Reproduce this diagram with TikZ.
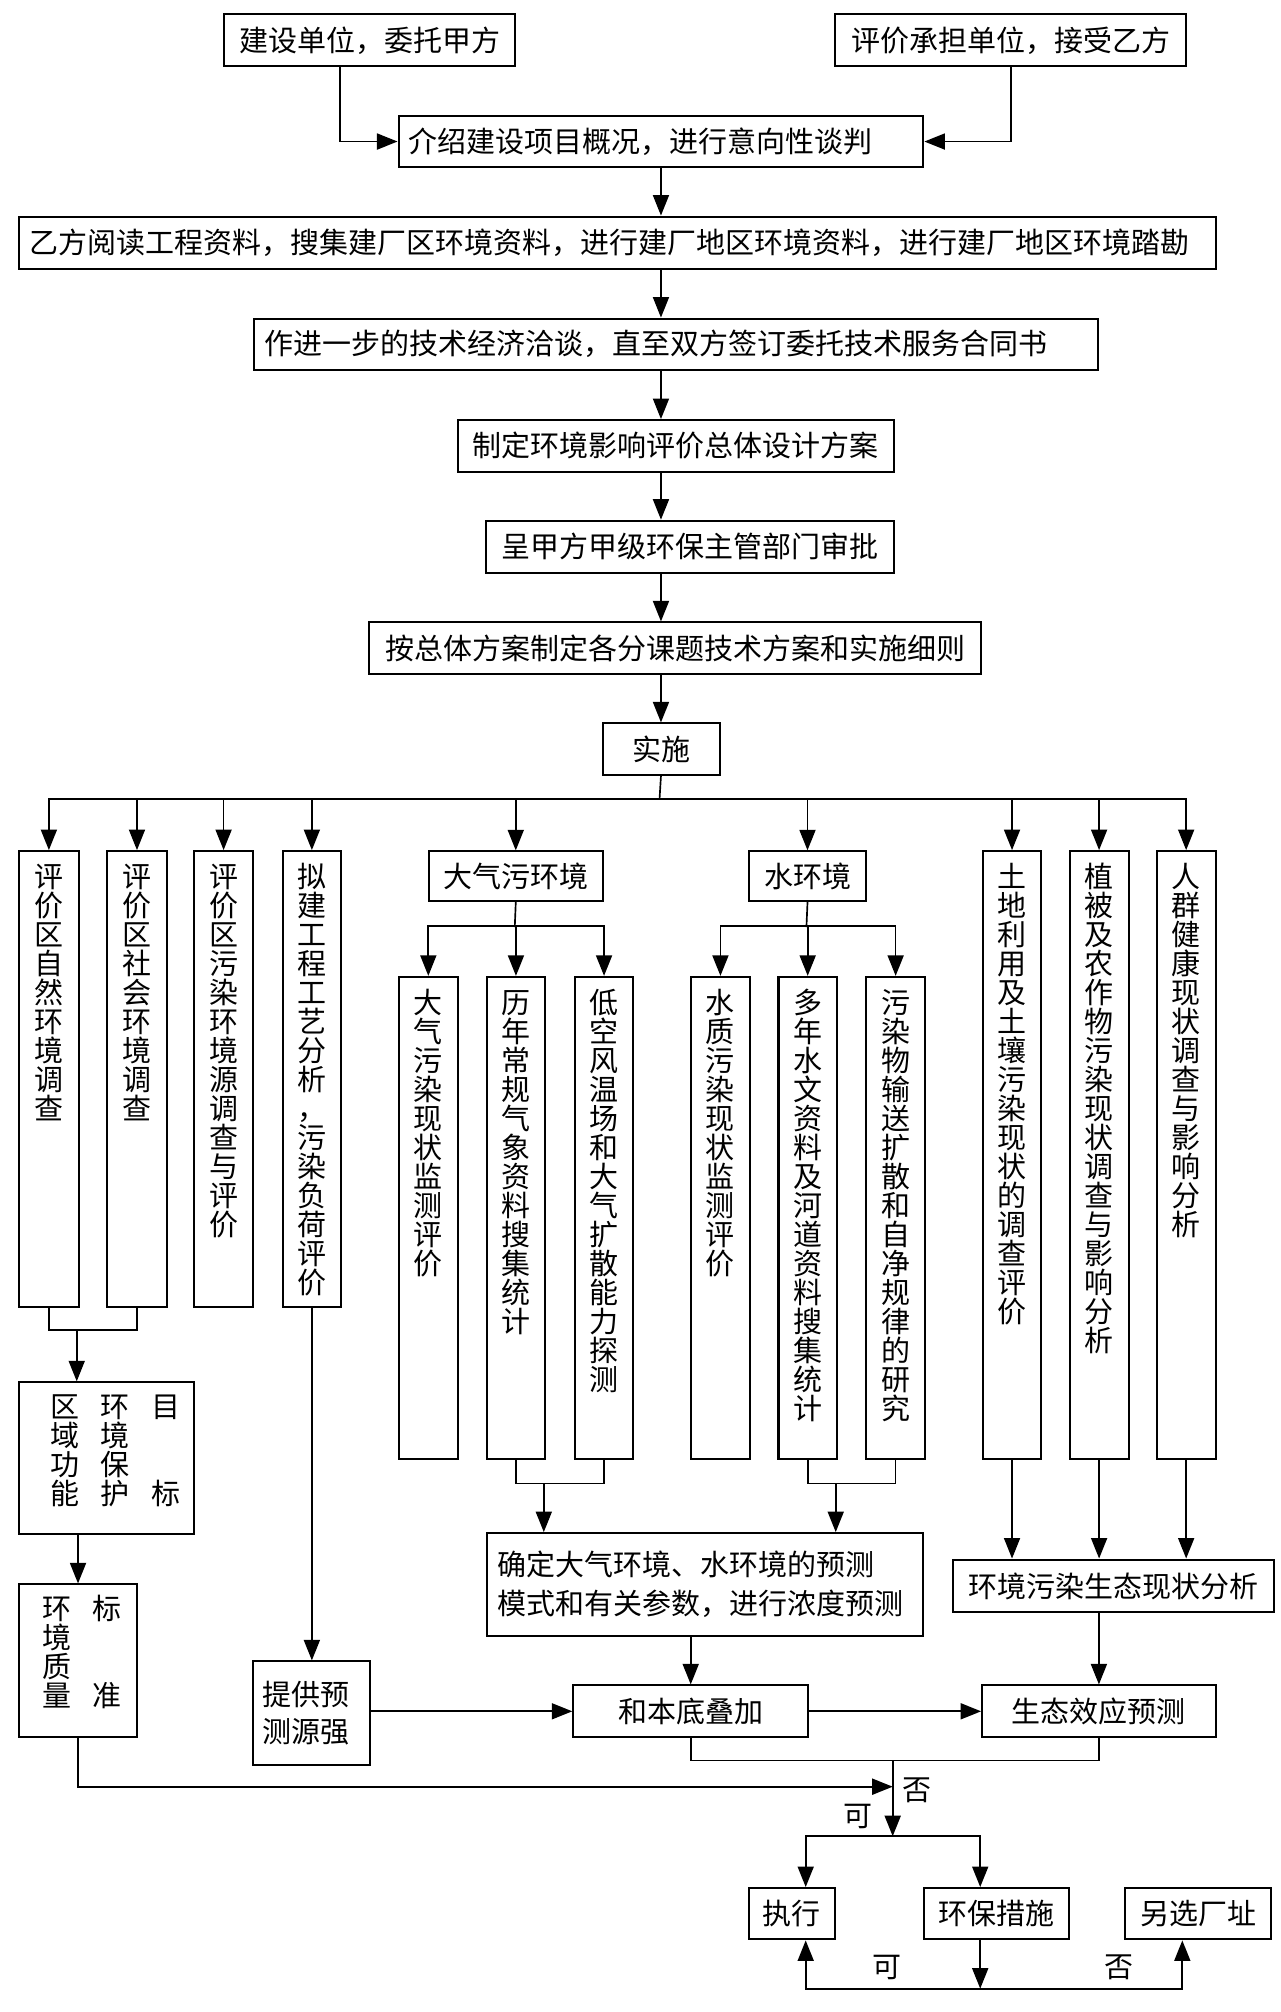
\documentclass[tikz,border=0pt]{standalone}
\usepackage{fontspec}
\setmainfont{Noto Sans CJK SC}
\usetikzlibrary{arrows.meta,calc}
\makeatletter
\newcommand\vstk[1]{\vtop{\baselineskip=22.6pt\lineskiplimit=-1000pt\lineskip=0pt\@tfor\vs@c:=#1\do{\hbox to 22.6pt{\hss\vs@c\hss}}}}
\makeatother
\newcommand\mybox[7]{\pgfmathsetmacro\bw{#4-#2}\pgfmathsetmacro\bh{#5-#3}\pgfmathsetmacro\tw{#4-#2-16}%
\node[box,anchor=north west,minimum width=\bw pt,minimum height=\bh pt,#6] (#1) at (#2,#3) {#7};}
\newcommand\vbx[6]{\mybox{#1}{#2}{#3}{#4}{#5}{}{}\node[vt] (#1t) at ($(#1.north)+(0,29)$) {\vstk{#6}};}
\tikzset{
 txt/.style={font=\fontsize{22.6pt}{26pt}\selectfont},
 box/.style={draw, line width=1.6pt, inner sep=8pt, txt},
 lt/.style={align=left, text width=\tw pt},
 arr/.style={line width=1.3pt, line cap=rect, -{Triangle[length=16pt,width=12.5pt]}},
 ln/.style={line width=1.3pt, line cap=rect},
 vt/.style={inner sep=0pt, anchor=base, txt},
 lab/.style={inner sep=0pt, txt},
}
\begin{document}
\begin{tikzpicture}[x=1pt,y=-1pt]
\useasboundingbox (0,0) rectangle (998,1568);
% top chain
\mybox{A}{173.7}{10.4}{400.8}{50.9}{}{建设单位，委托甲方}
\mybox{B}{650}{10.4}{923.7}{50.9}{}{评价承担单位，接受乙方}
\mybox{C}{309.8}{89.6}{718.8}{129.4}{lt}{介绍建设项目概况，进行意向性谈判}
\mybox{D}{14}{168}{947}{209}{lt}{乙方阅读工程资料，搜集建厂区环境资料，进行建厂地区环境资料，进行建厂地区环境踏勘}
\mybox{E}{197}{247.5}{855}{287.5}{lt}{作进一步的技术经济洽谈，直至双方签订委托技术服务合同书}
\mybox{F}{356}{326.6}{696}{366.7}{}{制定环境影响评价总体设计方案}
\mybox{G}{378}{405}{696}{445.4}{}{呈甲方甲级环保主管部门审批}
\mybox{H}{287}{484.3}{764}{524.5}{}{按总体方案制定各分课题技术方案和实施细则}
\mybox{I}{469}{563}{560}{603.2}{}{实施}
% columns
\vbx{c1}{14.2}{662.5}{60.4}{1017.5}{评价区自然环境调查}
\vbx{c2}{82.7}{662.5}{129.2}{1017.5}{评价区社会环境调查}
\vbx{c3}{150.5}{662.5}{196.4}{1017.5}{评价区污染环境源调查与评价}
\vbx{c4}{219.6}{662.5}{264.9}{1017.5}{拟建工程工艺分析，污染负荷评价}
\mybox{AP}{333.3}{662.7}{469}{701.7}{}{大气污环境}
\mybox{WP}{582.6}{662.7}{674.4}{701.7}{}{水环境}
\vbx{c7}{765}{662.5}{810.8}{1136}{土地利用及土壤污染现状的调查评价}
\vbx{c8}{832.8}{662.5}{878.7}{1136}{植被及农作物污染现状调查与影响分析}
\vbx{c9}{900.6}{662.5}{946.6}{1136}{人群健康现状调查与影响分析}
\vbx{a1}{310}{760.5}{356}{1136}{大气污染现状监测评价}
\vbx{a2}{378.6}{760.5}{424}{1136}{历年常规气象资料搜集统计}
\vbx{a3}{447.3}{760.5}{492.6}{1136}{低空风温场和大气扩散能力探测}
\vbx{w1}{537.7}{760.5}{583.6}{1136}{水质污染现状监测评价}
\vbx{w2}{605.9}{760.5}{651.4}{1136}{多年水文资料及河道资料搜集统计}
\vbx{w3}{674.1}{760.5}{720.3}{1136}{污染物输送扩散和自净规律的研究}
% lower boxes
\mybox{R}{14}{1076.5}{150.5}{1195}{}{}
\node[vt] (R1) at (50.6,1105) {\vstk{区域功能}};
\node[vt] (R2) at (89.6,1105) {\vstk{环境保护}};
\node[vt] (R3) at (129,1105) {\vstk{目{}{}标}};
\mybox{Q}{14}{1234}{106}{1352.5}{}{}
\node[vt] (Q1) at (44.7,1262) {\vstk{环境质量}};
\node[vt] (Q2) at (83.6,1262) {\vstk{标{}{}准}};
\mybox{P}{196}{1294}{287.5}{1374.5}{lt,font=\fontsize{22.6pt}{28.5pt}\selectfont}{提供预\\测源强}
\mybox{K}{378.6}{1194}{718.8}{1274}{lt,font=\fontsize{22.6pt}{30pt}\selectfont}{确定大气环境、水环境的预测\\模式和有关参数，进行浓度预测}
\mybox{S}{742}{1214.6}{992}{1255.8}{}{环境污染生态现状分析}
\mybox{M}{446}{1312.7}{629}{1353}{}{和本底叠加}
\mybox{N}{764.6}{1312.7}{946.6}{1353}{}{生态效应预测}
\mybox{X}{582.7}{1470.6}{650}{1510.6}{}{执行}
\mybox{Y}{719.5}{1470.6}{832}{1510.6}{}{环保措施}
\mybox{Z}{876}{1470.6}{990}{1510.6}{}{另选厂址}
% coordinates
\coordinate (bus) at (514,622.5);
\coordinate (apb) at (401.2,721.8);
\coordinate (wpb) at (628.5,721.8);
\coordinate (aj) at (423.8,1156);
\coordinate (wj) at (651.3,1156);
\coordinate (rj) at (59.8,1036.7);
\coordinate (tj) at (695.7,1372);
\coordinate (dj) at (695.7,1392.4);
\coordinate (bj) at (695.7,1431);
\coordinate (bl) at (627.9,1431);
\coordinate (br) at (763.9,1431);
\coordinate (ql) at (627.9,1549.8);
\coordinate (qm) at (763.9,1549.8);
\coordinate (qr) at (921.4,1549.8);
% connectors top
\draw[arr] ([xshift=-23.25pt]A.south) |- (C.west);
\draw[arr] (B.south) |- (C.east);
\draw[arr] (C.south) -- (C.south |- D.north);
\draw[arr] (C.south |- D.south) -- (C.south |- E.north);
\draw[arr] (C.south |- E.south) -- (C.south |- F.north);
\draw[arr] (C.south |- F.south) -- (C.south |- G.north);
\draw[arr] (C.south |- G.south) -- (C.south |- H.north);
\draw[arr] (C.south |- H.south) -- (C.south |- I.north);
\draw[ln] (C.south |- I.south) -- (bus);
\draw[ln] (c1.north |- bus) -- (c9.north |- bus);
\foreach \n in {c1,c2,c3,c4,AP,WP,c7,c8,c9} \draw[arr] (\n.north |- bus) -- (\n.north);
\draw[ln] (AP.south) -- (apb);
\draw[ln] (a1.north |- apb) -- (a3.north |- apb);
\foreach \n in {a1,a2,a3} \draw[arr] (\n.north |- apb) -- (\n.north);
\draw[ln] (WP.south) -- (wpb);
\draw[ln] (w1.north |- wpb) -- (w3.north |- wpb);
\foreach \n in {w1,w2,w3} \draw[arr] (\n.north |- wpb) -- (\n.north);
% connectors lower
\draw[ln] (a2.south) |- (aj) -| (a3.south);
\draw[arr] (aj) -- (aj |- K.north);
\draw[ln] (w2.south) |- (wj) -| (w3.south);
\draw[arr] (wj) -- (wj |- K.north);
\draw[arr] (M.north |- K.south) -- (M.north);
\foreach \n in {c7,c8,c9} \draw[arr] (\n.south) -- (\n.south |- S.north);
\draw[arr] (N.north |- S.south) -- (N.north);
\draw[arr] (c4.south) -- (c4.south |- P.north);
\draw[arr] (P.east |- M.west) -- (M.west);
\draw[arr] (M.east) -- (N.west);
\draw[ln] (c1.south) |- (rj) -| (c2.south);
\draw[arr] (rj) -- (rj |- R.north);
\draw[arr] (Q.north |- R.south) -- (Q.north);
\draw[arr] (Q.south) |- (dj);
\draw[ln] (M.south) |- (tj) -| (N.south);
\draw[arr] (tj) -- (bj);
\draw[ln] (bl) -- (br);
\draw[arr] (bl) -- (bl |- X.north);
\draw[arr] (br) -- (br |- Y.north);
\draw[arr] (br |- Y.south) -- (qm);
\draw[ln] (ql) -- (qr);
\draw[arr] (ql) -- (ql |- X.south);
\draw[arr] (qr) -- (qr |- Z.south);
% labels
\node[lab] (L1) at (714.5,1395) {否};
\node[lab] (L2) at (669,1415.3) {可};
\node[lab] (L3) at (691.4,1533.4) {可};
\node[lab] (L4) at (871.8,1533.4) {否};
\end{tikzpicture}
\end{document}
